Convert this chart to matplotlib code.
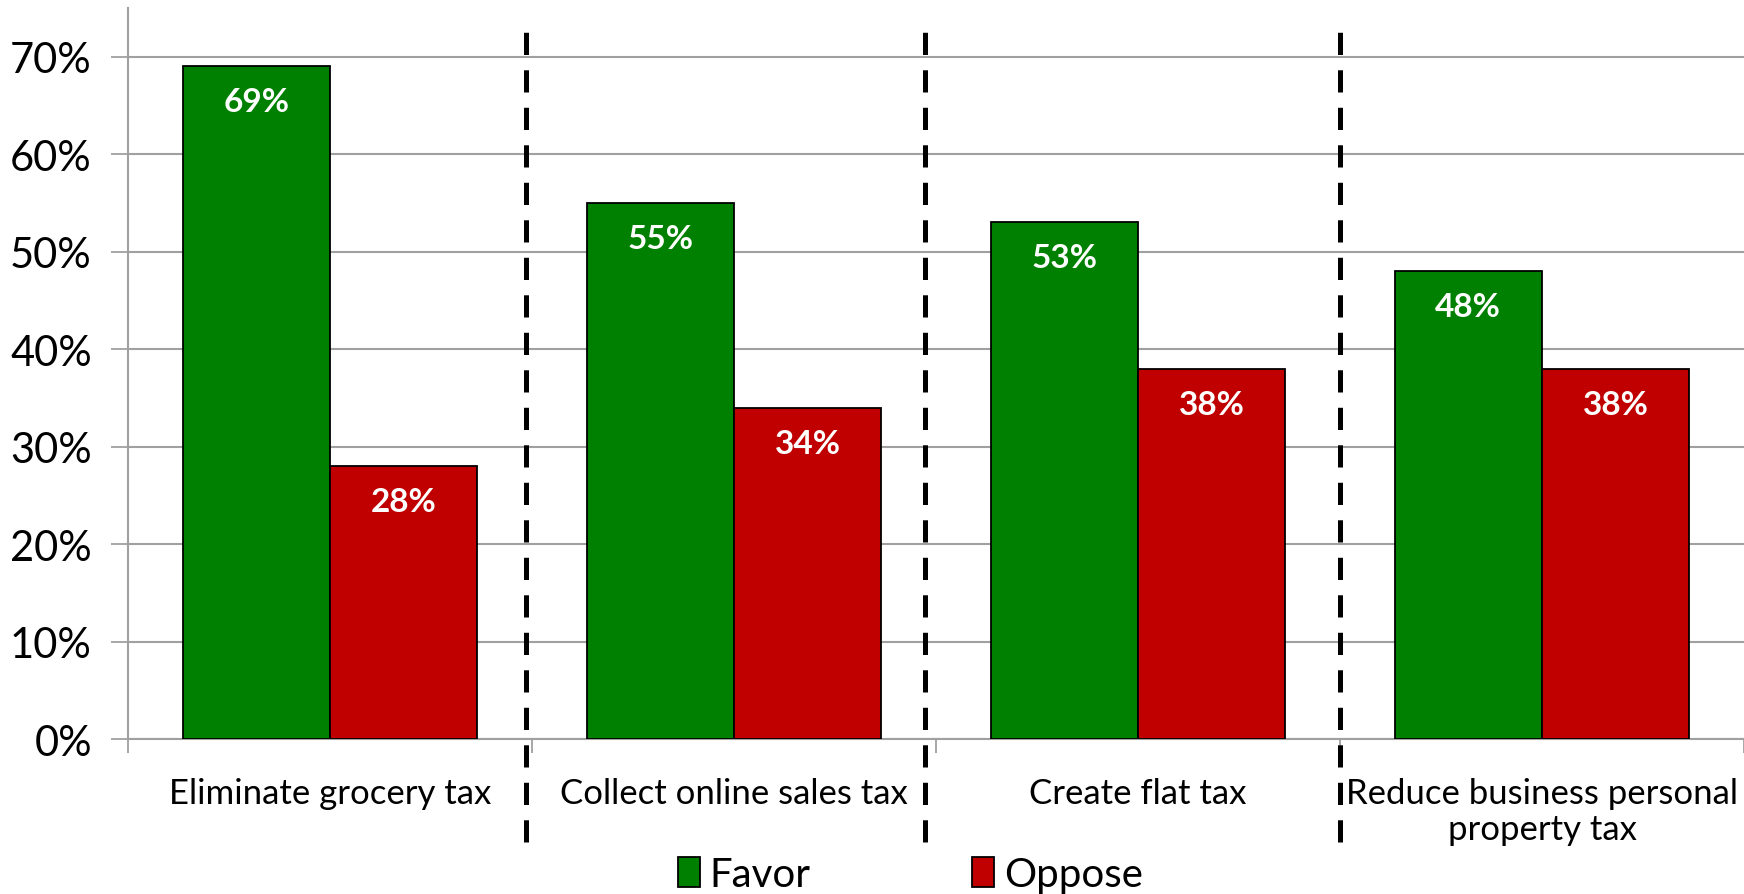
import matplotlib
matplotlib.use("Agg")
import matplotlib.pyplot as plt
import numpy as np
from matplotlib.ticker import FuncFormatter

categories = ["Eliminate grocery tax", "Collect online sales tax",
              "Create flat tax", "Reduce business personal\nproperty tax"]
favor = [69, 55, 53, 48]
oppose = [28, 34, 38, 38]
series_names = ["Favor", "Oppose"]
dividers = [0.486, 1.473, 2.5]

green = "#008000"
red = "#C00000"

plt.rcParams['font.family'] = ['Lato', 'DejaVu Sans']
plt.rcParams['lines.scale_dashes'] = False

fig = plt.figure(figsize=(17.44, 8.95), dpi=100)
ax = fig.add_axes([0.0734, 0.173, 0.9266, 0.817])

x = np.arange(len(categories))
w = 0.365
b1 = ax.bar(x - w / 2, favor, w, color=green, edgecolor="black", linewidth=1.3,
            label=series_names[0], zorder=3)
b2 = ax.bar(x + w / 2, oppose, w, color=red, edgecolor="black", linewidth=1.3,
            label=series_names[1], zorder=3)

for bars, vals in [(b1, favor), (b2, oppose)]:
    for r, v in zip(bars, vals):
        ax.annotate("{}%".format(v), (r.get_x() + r.get_width() / 2, v),
                    xytext=(0, -15), textcoords="offset points",
                    ha="center", va="top", color="white", fontsize=24,
                    fontweight="bold", zorder=4)

for d in dividers:
    ax.plot([d, d], [-10.5, 72.5], color="black", linewidth=3.6,
            dashes=(16, 11), clip_on=False, zorder=5)

ax.set_xlim(-0.5, len(categories) - 0.5)
ax.set_ylim(0, 75)
ax.set_yticks(np.arange(0, 71, 10))
ax.yaxis.set_major_formatter(FuncFormatter(lambda v, p: "{:.0f}%".format(v)))
ax.grid(axis="y", color="#A0A0A0", linewidth=1.5, zorder=0)
ax.set_axisbelow(True)

ax.set_xticks(x)
ax.set_xticklabels(categories, fontsize=25, linespacing=1.15)
ax.set_xticks(np.arange(-0.5, len(categories), 1), minor=True)
ax.tick_params(axis="x", which="major", length=0, pad=27)
ax.tick_params(axis="x", which="minor", length=10, width=1.3, color="#A0A0A0")
ax.tick_params(axis="y", length=12, width=1.3, color="#A0A0A0", labelsize=30, pad=14)

for s in ["top", "right"]:
    ax.spines[s].set_visible(False)
for s in ["left", "bottom"]:
    ax.spines[s].set_color("#A0A0A0")
    ax.spines[s].set_linewidth(1.5)

fig.legend(handles=[b1, b2], labels=series_names, loc="center",
           bbox_to_anchor=(0.522, 0.022), ncol=2, frameon=False, fontsize=29,
           handlelength=0.55, handleheight=0.75, handletextpad=0.25,
           columnspacing=4.0)

fig.savefig("out.png", dpi=100)
